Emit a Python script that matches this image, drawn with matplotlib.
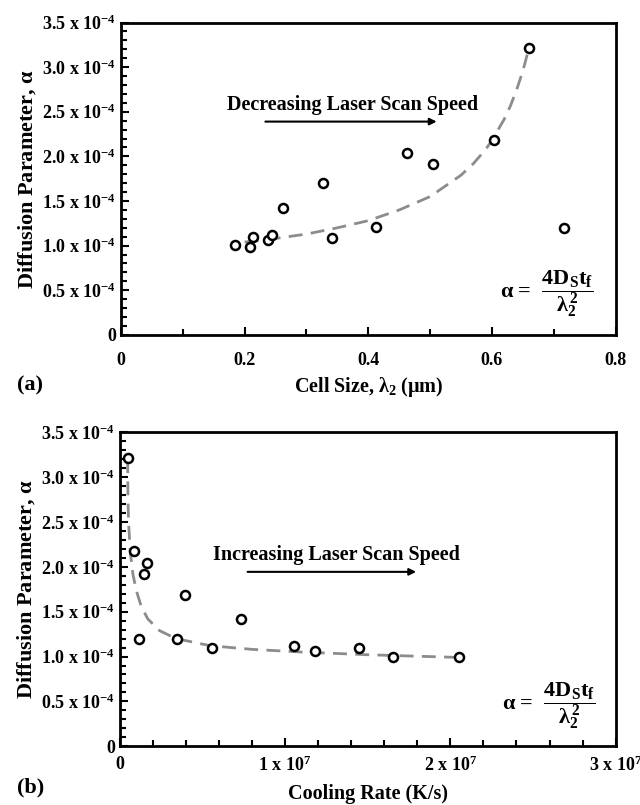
import matplotlib
matplotlib.use('Agg')
import matplotlib.pyplot as plt
from matplotlib.ticker import MultipleLocator, FuncFormatter

plt.rcParams['font.family'] = 'Liberation Serif'
plt.rcParams['font.weight'] = 'bold'
plt.rcParams['mathtext.fontset'] = 'custom'
plt.rcParams['mathtext.rm'] = 'Liberation Serif:bold'
plt.rcParams['mathtext.it'] = 'Liberation Serif:bold'
plt.rcParams['mathtext.bf'] = 'Liberation Serif:bold'

# panel (a): cell size vs diffusion parameter (x1e-4)
cell_size = [0.185, 0.208, 0.213, 0.237, 0.245, 0.262, 0.326, 0.342, 0.412, 0.462, 0.505, 0.603, 0.660, 0.716]
alpha_a = [1.01, 0.99, 1.10, 1.06, 1.12, 1.42, 1.70, 1.09, 1.21, 2.04, 1.92, 2.18, 3.21, 1.20]
fit_a_x = [0.20, 0.25, 0.30, 0.35, 0.40, 0.45, 0.50, 0.55, 0.57, 0.59, 0.60, 0.62, 0.63, 0.64, 0.65, 0.66]
fit_a_y = [1.04, 1.08, 1.13, 1.20, 1.28, 1.40, 1.55, 1.79, 1.92, 2.08, 2.18, 2.42, 2.57, 2.75, 2.96, 3.22]

# panel (b): cooling rate (x1e7) vs diffusion parameter (x1e-4)
cooling = [0.052, 0.089, 0.117, 0.146, 0.164, 0.347, 0.397, 0.558, 0.734, 1.057, 1.184, 1.447, 1.655, 2.055]
alpha_b = [3.21, 2.18, 1.19, 1.92, 2.04, 1.20, 1.69, 1.09, 1.42, 1.12, 1.06, 1.09, 0.99, 1.00]
fit_b_x = [0.048, 0.050, 0.055, 0.065, 0.08, 0.10, 0.13, 0.17, 0.24, 0.34, 0.55, 0.80, 1.10, 1.50, 2.05]
fit_b_y = [3.20, 2.75, 2.45, 2.15, 1.92, 1.74, 1.56, 1.42, 1.29, 1.20, 1.12, 1.08, 1.05, 1.02, 0.99]

y_ticks = [0, 0.5, 1.0, 1.5, 2.0, 2.5, 3.0, 3.5]
formula = r'$\alpha$ =  $\dfrac{4\mathrm{D_S t_f}}{\lambda_2^2}$'

fig = plt.figure(figsize=(6.4, 8.05), dpi=100)
ax1 = fig.add_axes([0.189, 0.584, 0.773, 0.388])
ax2 = fig.add_axes([0.187, 0.073, 0.775, 0.390])


def ylab(v, pos):
    if v == 0:
        return '0'
    return '%.1f x 10$^{-4}$' % v


def style(ax, xpad):
    for s in ax.spines.values():
        s.set_linewidth(2)
    ax.set_ylim(0, 3.5)
    ax.set_yticks(y_ticks)
    ax.yaxis.set_minor_locator(MultipleLocator(0.1))
    ax.yaxis.set_major_formatter(FuncFormatter(ylab))
    ax.tick_params(which='both', direction='in', width=1.5, labelsize=13, top=False, right=False)
    ax.tick_params(which='major', length=6)
    ax.tick_params(which='minor', length=4)
    ax.tick_params(axis='x', pad=xpad)
    ax.set_ylabel('Diffusion Parameter, $\\alpha$', fontsize=16, fontweight='bold', labelpad=3)


# (a)
ax1.plot(fit_a_x, fit_a_y, linestyle=(0, (5, 3)), color='#8c8c8c', lw=2, zorder=2)
ax1.plot(cell_size, alpha_a, 'o', mfc='white', mec='black', mew=1.8, ms=6.5, zorder=3)
style(ax1, 12)
ax1.set_xlim(0, 0.8)
ax1.set_xticks([0, 0.2, 0.4, 0.6, 0.8])
ax1.set_xticklabels(['0', '0.2', '0.4', '0.6', '0.8'])
ax1.xaxis.set_minor_locator(MultipleLocator(0.1))
ax1.set_xlabel('Cell Size, $\\lambda_2$ ($\\mu$m)', fontsize=14.5, fontweight='bold', labelpad=5)
ax1.text(0.374, 2.58, 'Decreasing Laser Scan Speed', ha='center', va='center', fontsize=14.5)
ax1.annotate('', xy=(0.515, 2.39), xytext=(0.229, 2.39),
             arrowprops=dict(arrowstyle='-|>', color='black', lw=1.5, mutation_scale=10))
ax1.text(0.86, 0.13, formula, transform=ax1.transAxes, ha='center', va='center', fontsize=16)
fig.text(0.027, 1 - 385 / 805, '(a)', fontsize=16, fontweight='bold', va='center')

# (b)
ax2.plot(fit_b_x, fit_b_y, linestyle=(0, (5, 3)), color='#8c8c8c', lw=2, zorder=2)
ax2.plot(cooling, alpha_b, 'o', mfc='white', mec='black', mew=1.8, ms=6.5, zorder=3)
style(ax2, 7)
ax2.set_xlim(0, 3)
ax2.set_xticks([0, 1, 2, 3])
ax2.set_xticklabels(['0', '1 x 10$^7$', '2 x 10$^7$', '3 x 10$^7$'])
ax2.xaxis.set_minor_locator(MultipleLocator(0.2))
ax2.set_xlabel('Cooling Rate (K/s)', fontsize=14.5, fontweight='bold', labelpad=6)
ax2.text(1.31, 2.13, 'Increasing Laser Scan Speed', ha='center', va='center', fontsize=14.5)
ax2.annotate('', xy=(1.81, 1.944), xytext=(0.757, 1.944),
             arrowprops=dict(arrowstyle='-|>', color='black', lw=1.5, mutation_scale=10))
ax2.text(0.865, 0.13, formula, transform=ax2.transAxes, ha='center', va='center', fontsize=16)
fig.text(0.027, 1 - 787 / 805, '(b)', fontsize=16, fontweight='bold', va='center')

fig.savefig('out.png', dpi=100)
